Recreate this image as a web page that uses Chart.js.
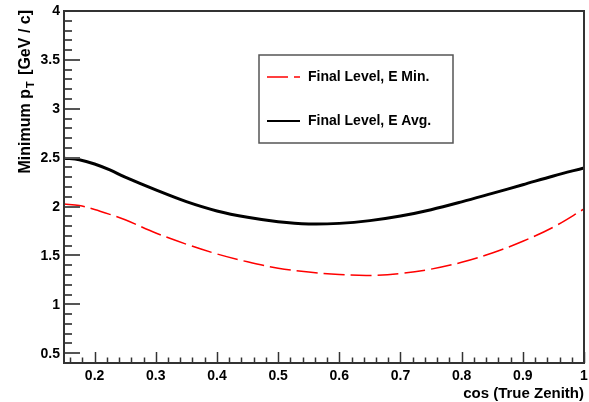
<!DOCTYPE html>
<html>
<head>
<meta charset="utf-8">
<script src="https://cdn.jsdelivr.net/npm/chart.js@4/dist/chart.umd.min.js"></script>
<style>
  html, body { margin: 0; padding: 0; background: #fff; }
  #wrap { width: 589px; height: 402px; }
</style>
</head>
<body>
<div id="wrap"><canvas id="chart" width="589" height="402"></canvas></div>
<script>
  // cos(true zenith) sample points
  const cosZenith = [0.15, 0.175, 0.20, 0.225, 0.25, 0.30, 0.35, 0.40, 0.45, 0.50, 0.55,
    0.60, 0.65, 0.70, 0.75, 0.80, 0.85, 0.90, 0.95, 1.00];

  const ptMin = [2.025, 2.01, 1.97, 1.92, 1.865, 1.73, 1.615, 1.515, 1.435, 1.37, 1.33,
    1.305, 1.295, 1.315, 1.36, 1.43, 1.525, 1.645, 1.79, 1.975];

  const ptAvg = [2.495, 2.478, 2.435, 2.374, 2.30, 2.17, 2.05, 1.955, 1.89, 1.845, 1.822,
    1.828, 1.856, 1.903, 1.968, 2.048, 2.135, 2.223, 2.313, 2.395];

  const xTicks = [0.2, 0.3, 0.4, 0.5, 0.6, 0.7, 0.8, 0.9, 1.0];
  const yTicks = [0.5, 1, 1.5, 2, 2.5, 3, 3.5, 4];
  const xTickLabels = ['0.2', '0.3', '0.4', '0.5', '0.6', '0.7', '0.8', '0.9', '1'];
  const yTickLabels = ['0.5', '1', '1.5', '2', '2.5', '3', '3.5', '4'];

  const FONT = '"Liberation Sans", Arial, Helvetica, sans-serif';

  // ROOT-style frame, inward ticks, labels, titles and legend
  const rootStyle = {
    id: 'rootStyle',
    afterDraw(chart) {
      const ctx = chart.ctx;
      const a = chart.chartArea;
      const xs = chart.scales.x;
      const ys = chart.scales.y;
      ctx.save();

      // minor + major ticks, x axis (every 0.02)
      ctx.strokeStyle = '#333';
      ctx.lineWidth = 1.5;
      for (let i = 0; i <= 50; i++) {
        const v = i * 0.02;
        if (v < xs.min - 1e-9 || v > xs.max + 1e-9) continue;
        const px = Math.round(xs.getPixelForValue(v)) + 0.5;
        const major = Math.abs(v * 10 - Math.round(v * 10)) < 1e-6;
        ctx.beginPath();
        ctx.moveTo(px, a.bottom);
        ctx.lineTo(px, a.bottom - (major ? 11 : 5.5));
        ctx.stroke();
      }

      // y axis ticks (every 0.1)
      ctx.strokeStyle = '#555';
      ctx.lineWidth = 2;
      for (let i = 4; i <= 40; i++) {
        const py = Math.round(ys.getPixelForValue(i / 10));
        const major = i % 5 === 0;
        ctx.beginPath();
        ctx.moveTo(a.left, py);
        ctx.lineTo(a.left + (major ? 16 : 8), py);
        ctx.stroke();
      }

      // frame
      ctx.strokeStyle = '#333';
      ctx.lineWidth = 2;
      ctx.strokeRect(a.left, a.top, a.right - a.left, a.bottom - a.top);

      // tick labels
      ctx.fillStyle = '#000';
      ctx.font = 'bold 14px ' + FONT;
      ctx.textAlign = 'center';
      ctx.textBaseline = 'alphabetic';
      xTicks.forEach((v, i) => {
        ctx.fillText(xTickLabels[i], xs.getPixelForValue(v), 380);
      });
      ctx.textAlign = 'right';
      ctx.textBaseline = 'middle';
      yTicks.forEach((v, i) => {
        ctx.fillText(yTickLabels[i], 60, ys.getPixelForValue(v) + 0.5);
      });

      // x title
      ctx.font = 'bold 15px ' + FONT;
      ctx.textAlign = 'right';
      ctx.textBaseline = 'alphabetic';
      ctx.fillText('cos (True Zenith)', 584, 398);

      // y title with subscript T
      const big = 'bold 16px ' + FONT;
      const small = 'bold 11px ' + FONT;
      ctx.font = big;
      const w1 = ctx.measureText('Minimum p').width;
      const w3 = ctx.measureText(' [GeV / c]').width;
      ctx.font = small;
      const w2 = ctx.measureText('T').width + 3;
      const total = w1 + w2 + w3;
      ctx.translate(30, 10 + total);
      ctx.rotate(-Math.PI / 2);
      ctx.textAlign = 'left';
      ctx.font = big;
      ctx.fillText('Minimum p', 0, 0);
      ctx.font = small;
      ctx.fillText('T', w1 + 1, 4);
      ctx.font = big;
      ctx.fillText(' [GeV / c]', w1 + w2, 0);
      ctx.setTransform(1, 0, 0, 1, 0, 0);

      // legend box
      ctx.fillStyle = '#fff';
      ctx.fillRect(259, 55, 194, 88);
      ctx.strokeStyle = '#555';
      ctx.lineWidth = 1.5;
      ctx.strokeRect(259, 55, 194, 88);
      const rows = [77, 121];
      chart.data.datasets.forEach((ds, i) => {
        const y = rows[i];
        ctx.strokeStyle = ds.borderColor;
        ctx.lineWidth = ds.legendWidth;
        ctx.setLineDash(ds.borderDash || []);
        ctx.beginPath();
        ctx.moveTo(267, y);
        ctx.lineTo(300, y);
        ctx.stroke();
        ctx.setLineDash([]);
        ctx.fillStyle = '#000';
        ctx.font = 'bold 14px ' + FONT;
        ctx.textAlign = 'left';
        ctx.textBaseline = 'middle';
        ctx.fillText(ds.label, 308, y + 0.5);
      });

      ctx.restore();
    }
  };

  new Chart(document.getElementById('chart'), {
    type: 'line',
    data: {
      labels: cosZenith,
      datasets: [
        {
          label: 'Final Level, E Min.',
          data: cosZenith.map((x, i) => ({ x, y: ptMin[i] })),
          borderColor: '#ff0000',
          borderWidth: 1.5,
          legendWidth: 1.5,
          borderDash: [21, 6],
          pointRadius: 0,
          tension: 0.35,
          fill: false
        },
        {
          label: 'Final Level, E Avg.',
          data: cosZenith.map((x, i) => ({ x, y: ptAvg[i] })),
          borderColor: '#000000',
          borderWidth: 3,
          legendWidth: 2,
          pointRadius: 0,
          tension: 0.35,
          fill: false
        }
      ]
    },
    options: {
      responsive: false,
      animation: false,
      events: [],
      layout: { padding: { left: 64, right: 5, top: 11, bottom: 39 } },
      plugins: {
        legend: { display: false },
        tooltip: { enabled: false },
        title: { display: false }
      },
      scales: {
        x: { type: 'linear', min: 0.15, max: 1.0, display: false },
        y: { type: 'linear', min: 0.4, max: 4.0, display: false }
      }
    },
    plugins: [rootStyle]
  });
</script>
</body>
</html>
